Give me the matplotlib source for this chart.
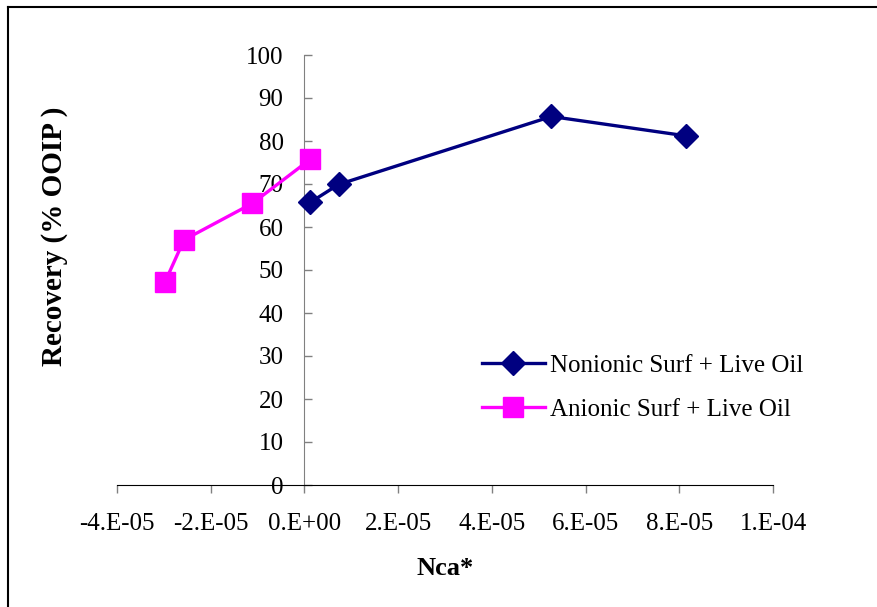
import numpy as np
import matplotlib
matplotlib.use('Agg')
import matplotlib.pyplot as plt
from matplotlib.lines import Line2D

# data
nonionic_x = [1.2e-6, 7.3e-6, 5.27e-5, 8.14e-5]
nonionic_y = [65.7, 69.9, 85.7, 81.2]

anionic_x = [-2.98e-5, -2.57e-5, -1.11e-5, 1.2e-6]
anionic_y = [47.1, 57.0, 65.5, 75.7]

x_ticks = [-4e-5, -2e-5, 0.0, 2e-5, 4e-5, 6e-5, 8e-5, 1e-4]
x_tick_labels = ['-4.E-05', '-2.E-05', '0.E+00', '2.E-05', '4.E-05',
                 '6.E-05', '8.E-05', '1.E-04']
y_ticks = [0, 10, 20, 30, 40, 50, 60, 70, 80, 90, 100]

plt.rcParams['font.family'] = ['Liberation Serif', 'DejaVu Serif']
fs = 18

W, H = 878, 607
fig = plt.figure(figsize=(W / 100, H / 100), dpi=100)
ax = fig.add_axes([117 / W, 1 - 485 / H, 656 / W, 430 / H])

ax.plot(nonionic_x, nonionic_y, color='#000080', lw=2.4, marker='D', ms=12,
        label='Nonionic Surf + Live Oil', zorder=3)
ax.plot(anionic_x, anionic_y, color='#FF00FF', lw=2.4, marker='s', ms=15,
        label='Anionic Surf + Live Oil', zorder=3)

ax.set_xlim(-4e-5, 1e-4)
ax.set_ylim(0, 100)

ax.spines['top'].set_visible(False)
ax.spines['right'].set_visible(False)
ax.spines['left'].set_position(('data', 0))
ax.spines['bottom'].set_position(('data', 0))
ax.spines['left'].set_color('#808080')
ax.spines['bottom'].set_color('black')

ax.set_xticks(x_ticks)
ax.set_xticklabels(x_tick_labels)
ax.set_yticks(y_ticks)
ax.tick_params(axis='x', direction='out', length=6, width=1, color='#808080',
               labelsize=fs, pad=14)
ax.tick_params(axis='y', direction='in', length=6, width=1, color='#808080',
               labelsize=fs, pad=15)

ax.set_ylabel('Recovery (% OOIP )', fontsize=21, fontweight='bold')
ax.set_xlabel('Nca*', fontsize=fs + 1, fontweight='bold')
ax.yaxis.set_label_coords(-0.075, 0.578)
ax.xaxis.set_label_coords(0.5, -0.167)

ax.legend(loc='upper left', bbox_to_anchor=(482 / W, 1 - 354 / H),
          bbox_transform=fig.transFigure, frameon=False, fontsize=fs,
          borderpad=0, borderaxespad=0, handlelength=2.5, handletextpad=0.2,
          labelspacing=0.86, numpoints=1)

# partial frame around the picture (top and left edges only)
fig.add_artist(Line2D([8 / W, 1], [1 - 7 / H, 1 - 7 / H], color='black', lw=1.5,
                      transform=fig.transFigure))
fig.add_artist(Line2D([8 / W, 8 / W], [0, 1 - 7 / H], color='black', lw=1.5,
                      transform=fig.transFigure))

fig.savefig('out.png', dpi=100)
